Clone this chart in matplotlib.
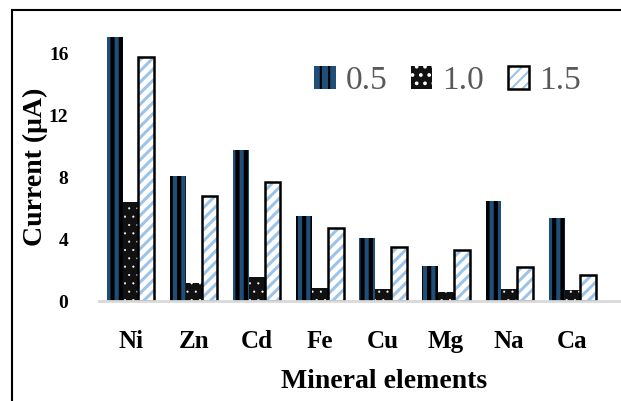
import matplotlib
matplotlib.use("Agg")
import matplotlib.pyplot as plt
from matplotlib.lines import Line2D
from matplotlib.legend_handler import HandlerTuple
import numpy as np

elements = ['Ni', 'Zn', 'Cd', 'Fe', 'Cu', 'Mg', 'Na', 'Ca']
conc_05 = [17.1, 8.1, 9.8, 5.5, 4.05, 2.25, 6.5, 5.35]
conc_10 = [6.4, 1.15, 1.55, 0.85, 0.75, 0.6, 0.8, 0.7]
conc_15 = [15.8, 6.8, 7.7, 4.75, 3.5, 3.3, 2.2, 1.7]
series_labels = ['0.5', '1.0', '1.5']
yticks = [0, 4, 8, 12, 16]

plt.rcParams['font.family'] = 'Liberation Serif'
plt.rcParams['hatch.linewidth'] = 1.5

fig = plt.figure(figsize=(6.21, 4.01), dpi=100)
ax = fig.add_axes([99/621, 100/401, 1 - 99/621, 264/401])

x = np.arange(len(elements))
w = 0.25

b1 = ax.bar(x - w, conc_05, w, color='#1F4E79', edgecolor='black', linewidth=0, hatch='||')
b2 = ax.bar(x, conc_10, w, color='#111111', edgecolor='white', linewidth=0, hatch='..')
b3 = ax.bar(x + w, conc_15, w, color='white', edgecolor='#9DC3E6', linewidth=0, hatch='///')
b3o = ax.bar(x + w, conc_15, w, color='none', edgecolor='black', linewidth=1.8)

# per-bar hatch line widths (stripes thick, dots small)
for bars, lw in [(b1, 3.0), (b2, 0.3), (b3, 2.2)]:
    for p in bars:
        if hasattr(p, 'set_hatch_linewidth'):
            p.set_hatch_linewidth(lw)

ax.set_xlim(-0.5, 7.77)
ax.set_ylim(0, 17.1)
ax.set_xticks(x)
ax.set_xticklabels(elements, fontsize=18, fontweight='bold')
ax.set_yticks(yticks)
ax.set_yticklabels([str(v) for v in yticks], fontsize=14, fontweight='bold')
ax.tick_params(axis='both', length=0)
ax.tick_params(axis='x', pad=21)
ax.tick_params(axis='y', pad=22)
for s in ['top', 'right', 'left']:
    ax.spines[s].set_visible(False)
ax.spines['bottom'].set_color('#d9d9d9')
ax.spines['bottom'].set_linewidth(2)

fig.text(35/621, 1 - 167/401, 'Current (μA)', fontsize=20, fontweight='bold',
         rotation=90, ha='center', va='center')
fig.text(384/621, 1 - 381/401, 'Mineral elements', fontsize=20, fontweight='bold',
         ha='center', va='center')

leg = ax.legend([b1[0], b2[0], (b3[0], b3o[0])], series_labels,
                handler_map={tuple: HandlerTuple(ndivide=1)},
                ncol=3, frameon=False, fontsize=24, loc='center left',
                bbox_to_anchor=(284/621, 1 - 81/401), bbox_transform=fig.transFigure,
                handlelength=0.65, handleheight=0.65, handletextpad=0.3,
                columnspacing=0.7, labelcolor='#595959')

# outer frame of the picture
fig.add_artist(Line2D([12/621, 1], [1 - 9.5/401] * 2, color='black', lw=1.5,
                      transform=fig.transFigure))
fig.add_artist(Line2D([12/621] * 2, [0, 1 - 9.5/401], color='black', lw=1.5,
                      transform=fig.transFigure))

fig.savefig('out.png', dpi=100)
